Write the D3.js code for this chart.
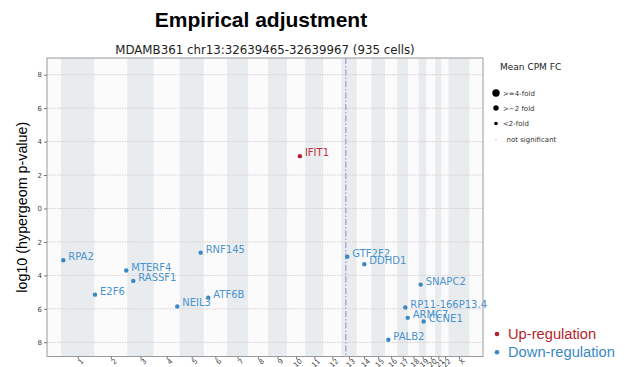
<!DOCTYPE html>
<html>
<head>
<meta charset="utf-8">
<script src="https://cdn.jsdelivr.net/npm/d3@7"></script>
<style>
  html, body { margin: 0; padding: 0; background: #fff; }
  svg { display: block; }
</style>
</head>
<body>
<svg id="chart" width="625" height="367"></svg>
<script>
// Chromosomes and their lengths (Mb, hg19)
const chromosomes = ["1","2","3","4","5","6","7","8","9","10","11","12","13","14","15","16","17","18","19","20","21","22","X"];
const chromLengths = [249.25,243.2,198.0,191.15,180.9,171.1,159.1,146.4,141.2,135.5,135.0,133.85,115.2,107.35,102.5,90.35,81.2,78.1,59.1,63.0,48.1,51.3,155.3];

// Genes with a significant association
const genes      = ["RPA2","E2F6","MTERF4","RASSF1","NEIL3","RNF145","ATF6B","IFIT1","GTF2F2","DDHD1","SNAPC2","RP11-166P13.4","ARMC7","CCNE1","PALB2"];
const geneChrom  = ["1","2","2","3","4","5","6","10","13","14","19","17","17","19","16"];
const genePosMb  = [17,3.5,236,45,174,157,32.5,96,44,55,15,60,77.5,37,24];
const geneLogP   = [3.09,5.15,3.71,4.33,5.86,2.64,5.33,3.13,2.88,3.33,4.55,5.92,6.54,6.76,7.85];
const geneDir    = ["down","down","down","down","down","down","down","up","down","down","down","down","down","down","down"];

// Tested locus
const locusChrom = "13";
const locusPosMb = 32.64;

// Axis ticks
const yTicks = [-8,-6,-4,-2,0,2,4,6,8];

// Legend entries
const sizeLegendLabels = [">=4-fold", ">~2 fold", "<2-fold", "not significant"];
const dirLegendLabels  = ["Up-regulation", "Down-regulation"];

const colors = { up: "#b51f2e", down: "#3a89c5" };
const labelColors = { up: "#c0303a", down: "#4a93cc" };

// cumulative chromosome offsets
const chromStart = {};
let acc = 0;
chromosomes.forEach((c, i) => { chromStart[c] = acc; acc += chromLengths[i]; });
const genomeLen = acc;

const svg = d3.select("#chart");
const plot = { left: 47, right: 483, top: 58, bottom: 356.5 };

const x = d3.scaleLinear().domain([-104, 3137.5]).range([plot.left, plot.right]);
const y = d3.scaleLinear().domain([-8.85, 9]).range([plot.bottom, plot.top]);

// chromosome bands
const bands = chromosomes.map((c, i) => ({ c, i, start: chromStart[c], end: chromStart[c] + chromLengths[i] }));
svg.append("rect")
  .attr("x", plot.left).attr("y", plot.top)
  .attr("width", plot.right - plot.left).attr("height", plot.bottom - plot.top)
  .attr("fill", "#fbfbfb");
svg.append("g").selectAll("rect").data(bands).join("rect")
  .attr("x", d => x(d.start))
  .attr("width", d => x(d.end) - x(d.start))
  .attr("y", plot.top).attr("height", plot.bottom - plot.top)
  .attr("fill", d => d.i % 2 === 0 ? "#e9ecee" : "#fbfbfb");

// horizontal grid
svg.append("g").selectAll("line").data(yTicks).join("line")
  .attr("x1", plot.left).attr("x2", plot.right)
  .attr("y1", d => y(d)).attr("y2", d => y(d))
  .attr("stroke", "#d9cfd2").attr("stroke-width", 1)
  .attr("stroke-dasharray", "1.5,1");

// locus marker
const locusX = x(chromStart[locusChrom] + locusPosMb);
svg.append("line")
  .attr("x1", locusX).attr("x2", locusX)
  .attr("y1", plot.top).attr("y2", plot.bottom)
  .attr("stroke", "#a59ddb").attr("stroke-width", 1.3)
  .attr("stroke-dasharray", "6,2,1.5,2");

// frame
svg.append("rect")
  .attr("x", plot.left).attr("y", plot.top)
  .attr("width", plot.right - plot.left).attr("height", plot.bottom - plot.top)
  .attr("fill", "none").attr("stroke", "#9a9a9a").attr("stroke-width", 1);

// y axis
const yAxis = d3.axisLeft(y).tickValues(yTicks).tickSize(3).tickPadding(2)
  .tickFormat(d => Math.abs(d));
const gy = svg.append("g").attr("transform", `translate(${plot.left},0)`).call(yAxis);
gy.select(".domain").remove();
gy.selectAll("line").attr("stroke", "#777");
gy.selectAll("text").attr("fill", "#444").style("font-family", "DejaVu Sans").style("font-size", "7px");

// x axis with chromosome names at band centres
const xAxis = d3.axisBottom(x)
  .tickValues(bands.map(d => (d.start + d.end) / 2))
  .tickFormat((d, i) => chromosomes[i])
  .tickSize(3).tickPadding(1);
const gx = svg.append("g").attr("transform", `translate(0,${plot.bottom})`).call(xAxis);
gx.select(".domain").remove();
gx.selectAll("line").attr("stroke", "#777");
gx.selectAll("text")
  .attr("fill", "#444").style("font-family", "DejaVu Sans").style("font-size", "7px")
  .attr("text-anchor", "end")
  .attr("dx", "0.2em").attr("dy", "0.7em")
  .attr("transform", "rotate(-45) translate(0,0)");
gx.selectAll(".tick text").attr("transform", "translate(2,3) rotate(-45)").attr("y", 0).attr("dy", "0.6em");

// gene points
const pts = genes.map((g, i) => ({
  name: g,
  gx: chromStart[geneChrom[i]] + genePosMb[i],
  gy: geneDir[i] === "up" ? geneLogP[i] : -geneLogP[i],
  dir: geneDir[i]
}));
const gp = svg.append("g");
gp.selectAll("circle").data(pts).join("circle")
  .attr("cx", d => x(d.gx)).attr("cy", d => y(d.gy)).attr("r", 2.2)
  .attr("fill", d => colors[d.dir]);
gp.selectAll("text").data(pts).join("text")
  .attr("x", d => x(d.gx) + 5).attr("y", d => y(d.gy))
  .attr("fill", d => labelColors[d.dir])
  .style("font-family", "DejaVu Sans").style("font-size", "10px")
  .text(d => d.name);

// titles
svg.append("text").attr("x", 261).attr("y", 27).attr("text-anchor", "middle")
  .style("font-family", "Liberation Sans, Arial, sans-serif").style("font-weight", "bold").style("font-size", "21px")
  .text("Empirical adjustment");
svg.append("text").attr("x", 265).attr("y", 54).attr("text-anchor", "middle")
  .attr("fill", "#222")
  .style("font-family", "DejaVu Sans").style("font-size", "11.8px")
  .text("MDAMB361 chr13:32639465-32639967 (935 cells)");

// y axis title
svg.append("text")
  .attr("transform", `translate(27,${(plot.top + plot.bottom) / 2}) rotate(-90)`)
  .attr("text-anchor", "middle")
  .style("font-family", "Liberation Sans, Arial, sans-serif").style("font-size", "14.3px")
  .text("log10 (hypergeom p-value)");

// size legend
const lg = svg.append("g").style("font-family", "DejaVu Sans");
lg.append("text").attr("x", 500).attr("y", 70).attr("fill", "#222").style("font-size", "9px").text("Mean CPM FC");
const sizeR = [3.7, 2.7, 1.8, 0.6];
const sizeY = [93, 108, 123.5, 139.5];
sizeLegendLabels.forEach((t, i) => {
  lg.append("circle").attr("cx", 496).attr("cy", sizeY[i]).attr("r", sizeR[i]).attr("fill", i === 3 ? "#999" : "#000");
  lg.append("text").attr("x", i === 3 ? 506.5 : 503).attr("y", sizeY[i] + 2.5)
    .attr("fill", "#333").style("font-size", "7px").text(t);
});

// direction legend
const dl = svg.append("g").style("font-family", "Liberation Sans, Arial, sans-serif");
["up", "down"].forEach((k, i) => {
  const yy = 338.5 + i * 18.3;
  dl.append("circle").attr("cx", 497).attr("cy", yy - 4.5).attr("r", 2.3).attr("fill", colors[k]);
  dl.append("text").attr("x", 508).attr("y", yy).attr("fill", colors[k])
    .style("font-size", "14.7px").text(dirLegendLabels[i]);
});
</script>
</body>
</html>
